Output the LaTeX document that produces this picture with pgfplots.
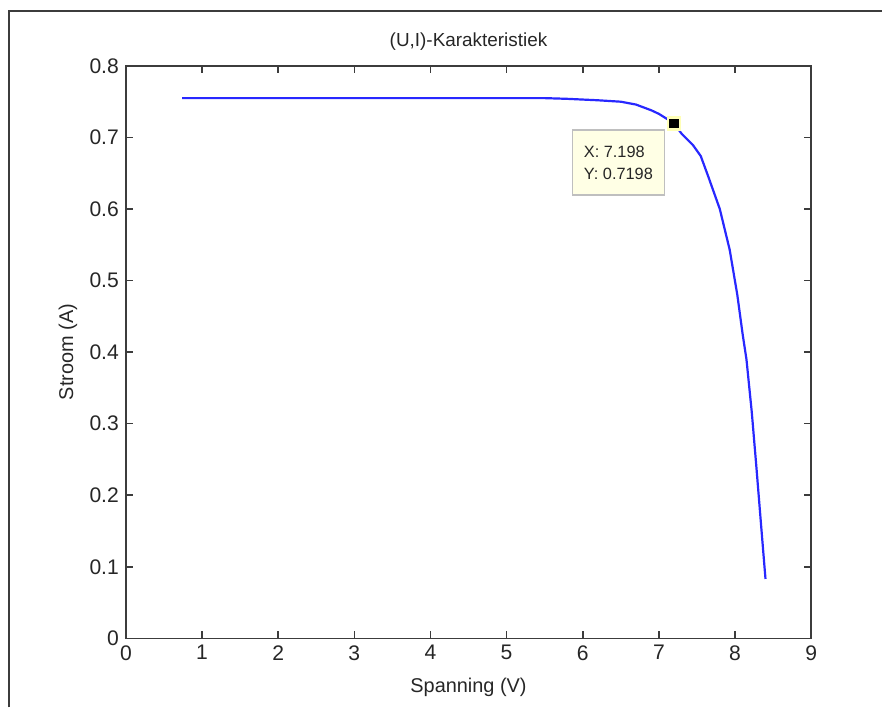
\documentclass[border=0pt]{standalone}
\usepackage{fontspec}
\setmainfont{Liberation Sans}
\usepackage{pgfplots}
\pgfplotsset{compat=1.18}

\definecolor{mlblue}{RGB}{40,40,255}
\definecolor{tipbg}{RGB}{255,255,229}
\definecolor{axgray}{RGB}{60,60,60}

\begin{document}
\begin{tikzpicture}
% page frame (image is 883x708 px, 1 px = 0.5 bp)
\path (0,0) rectangle (441.5bp,354bp);
\draw[axgray, line width=0.9bp] (4.5bp,0) -- (4.5bp,348.5bp) -- (441.5bp,348.5bp);

\begin{axis}[
  at={(63bp,34.5bp)}, anchor=south west,
  scale only axis,
  width=343bp, height=286.5bp,
  xmin=0, xmax=9, ymin=0, ymax=0.8,
  xtick={0,1,...,9},
  ytick={0,0.1,...,0.8},
  tick align=inside,
  tick pos=both,
  major tick length=3.5bp,
  axis line style={axgray, line width=0.8bp},
  every tick/.style={axgray, line width=0.8bp},
  font=\fontsize{10}{12}\selectfont,
  ticklabel style={text=black!85, font=\fontsize{10.6}{12}\selectfont},
  /pgf/number format/assume math mode=true,
  yticklabel style={/pgf/number format/.cd, fixed, precision=1},
  xlabel={Spanning (V)},
  xlabel style={at={(axis description cs:0.5,-0.0855)}, anchor=center, text=black!85},
  ylabel={Stroom (A)},
  ylabel style={at={(axis description cs:-0.0845,0.5)}, anchor=center, text=black!85},
  clip=false,
]
\addplot[mlblue, line width=1.1bp] coordinates {
  (0.74,0.755) (2.0,0.755) (4.0,0.755) (5.5,0.755) (5.8,0.754)
  (6.2,0.752) (6.5,0.750) (6.7,0.746) (6.9,0.738) (7.0,0.733)
  (7.198,0.7198) (7.3,0.705) (7.45,0.689) (7.55,0.674) (7.65,0.645)
  (7.8,0.600) (7.93,0.543) (8.03,0.480) (8.1,0.425) (8.15,0.390)
  (8.22,0.316) (8.28,0.240) (8.35,0.148) (8.40,0.083)
};
\addplot[only marks, mark=square*, mark size=3bp,
  mark options={fill=black, draw=tipbg!80!yellow, line width=1.2bp}]
  coordinates {(7.198,0.7198)};
\node[draw=black!25, fill=tipbg, line width=0.6bp, align=left,
  minimum width=46bp, minimum height=32.5bp, inner sep=3bp,
  font=\fontsize{8.2}{11}\selectfont, text=black!85]
  at (axis cs:6.468,0.665) {X: 7.198\\Y: 0.7198};
\node[font=\fontsize{9.5}{11}\selectfont, text=black!85]
  at (axis description cs:0.5,1.0419) {(U,I)-Karakteristiek};
\end{axis}
\end{tikzpicture}
\end{document}
